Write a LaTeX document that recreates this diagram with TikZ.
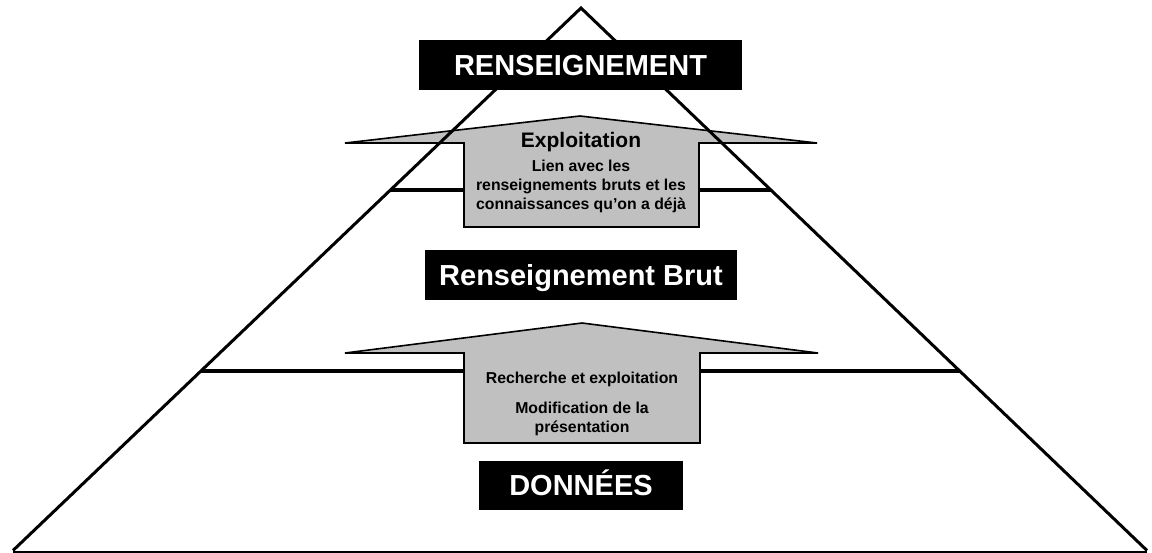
\documentclass[tikz,border=0pt]{standalone}
\usepackage{fontspec}
\setmainfont{Liberation Sans}
\usetikzlibrary{calc}
\tikzset{
  side/.style={line width=3pt, line join=miter},
  level/.style={line width=4pt},
  arrowshape/.style={fill=arrowgray, draw=black, line width=1.6pt, line join=miter},
  blackbox/.style={fill=black, text=white, inner sep=0pt, text height=20.8pt, text depth=0pt,
     font=\fontsize{29}{34}\selectfont\bfseries},
  big/.style={anchor=base, inner sep=0pt, font=\fontsize{21}{25}\selectfont\bfseries},
  small/.style={anchor=base, inner sep=0pt, font=\fontsize{15.8}{19}\selectfont\bfseries},
}
\definecolor{arrowgray}{HTML}{C0C0C0}
\begin{document}
\begin{tikzpicture}[x=1pt,y=-1pt]
\useasboundingbox (0,0) rectangle (1152,552);
% triangle corners
\coordinate (apex) at (581,8);
\coordinate (bl) at (13,550.5);
\coordinate (br) at (1147,550.5);
\coordinate (bl2) at (13,552);
\coordinate (br2) at (1147,552);
% level lines
\coordinate (u1) at ($(apex)!0.3358!(bl)$);
\coordinate (u2) at ($(apex)!0.3358!(br)$);
\coordinate (l1) at ($(apex)!0.6697!(bl)$);
\coordinate (l2) at ($(apex)!0.6697!(br)$);
\draw[level] (u1) -- (u2);
\draw[level] (l1) -- (l2);
% upper arrow
\draw[arrowshape] (580,116) -- (817,143) -- (699,143) -- (699,227) -- (464,227) -- (464,143) -- (345,143) -- cycle;
% lower arrow
\draw[arrowshape] (582,323) -- (818,353) -- (700,353) -- (700,443) -- (464,443) -- (464,353) -- (345,353) -- cycle;
% triangle
\draw[side] (bl) -- (apex) -- (br);
\draw[side] (bl2) -- (br2);
% boxes
\node[blackbox, minimum width=323pt, minimum height=50pt] (top) at (580.5,65) {RENSEIGNEMENT};
\node[blackbox, minimum width=312pt, minimum height=50pt] (mid) at (581,275) {Renseignement Brut};
\node[blackbox, minimum width=204pt, minimum height=49pt] (bot) at (581,485.5) {DONNÉES};
% upper arrow text
\node[big] (t1) at (581,147) {Exploitation};
\node[small] (t2) at (581,171) {Lien avec les};
\node[small] (t3) at (581,190) {renseignements bruts et les};
\node[small] (t4) at (581,209) {connaissances qu’on a déjà};
% lower arrow text
\node[small] (b1) at (582,383) {Recherche et exploitation};
\node[small] (b2) at (582,413) {Modification de la};
\node[small] (b3) at (582,432) {présentation};
\end{tikzpicture}
\end{document}
